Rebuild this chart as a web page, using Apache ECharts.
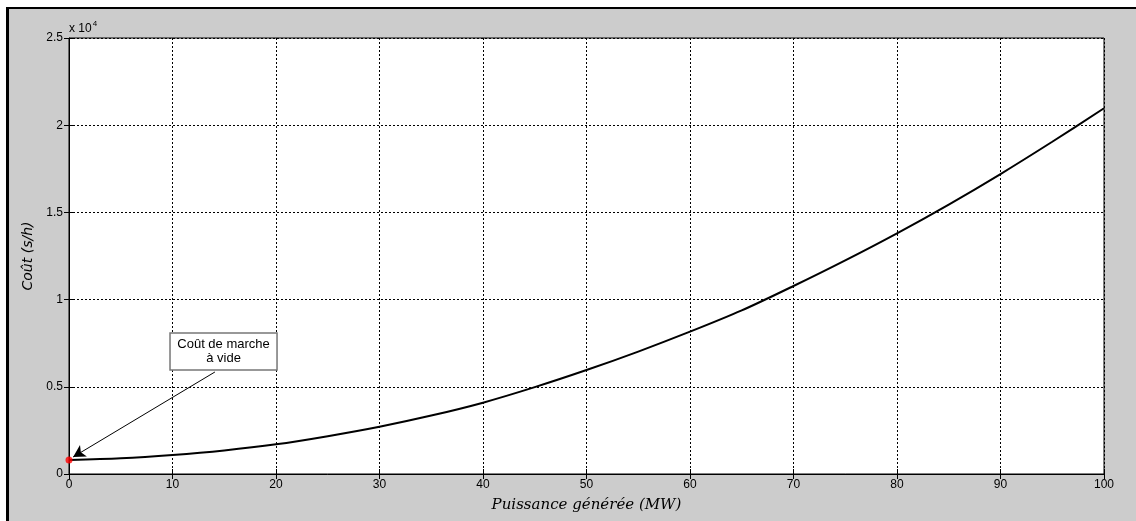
<!DOCTYPE html>
<html>
<head>
<meta charset="utf-8">
<script src="https://cdn.jsdelivr.net/npm/echarts@6/dist/echarts.min.js"></script>
<style>
html,body{margin:0;padding:0;background:#fff;}
#c{width:1136px;height:521px;}
</style>
</head>
<body>
<div id="c"></div>
<script>
// Data
var powerMW = [0, 5, 10, 15, 20, 25, 30, 35, 40, 45, 50, 55, 60, 65, 70, 75, 80, 85, 90, 95, 100];
var costValues = [800, 900, 1090, 1350, 1700, 2170, 2710, 3350, 4090, 4980, 5960, 7020, 8160, 9380, 10780, 12250, 13800, 15450, 17200, 19050, 20970];
var xTicks = [0, 10, 20, 30, 40, 50, 60, 70, 80, 90, 100];
var yTickLabels = ['0', '0.5', '1', '1.5', '2', '2.5'];
var noLoadPoint = [0, 800];
var annotationText = ['Coût de marche', 'à vide'];
var arrowStart = [14.1, 5850];
var arrowEnd = [0.4, 975];
var boxTopLeft = [9.76, 8090];
var boxBottomRight = [20.1, 5960];

var chart = echarts.init(document.getElementById('c'));
var lineData = powerMW.map(function (p, i) { return [p, costValues[i]]; });

var tickFont = {fontFamily: 'Liberation Sans, Arial, sans-serif', fontSize: 12, color: '#000'};

chart.setOption({
  backgroundColor: '#cccccc',
  animation: false,
  grid: {left: 69, right: 32, top: 38, bottom: 47, show: true, backgroundColor: '#fff', borderColor: '#000', borderWidth: 1},
  xAxis: [{
    type: 'value', min: 0, max: 100, interval: 10, position: 'bottom',
    axisLine: {show: true, lineStyle: {color: '#000', width: 1}},
    axisTick: {show: true, inside: true, length: 5, lineStyle: {color: '#000'}},
    axisLabel: Object.assign({margin: 5}, tickFont),
    splitLine: {show: true, lineStyle: {color: '#000', type: [2, 2], width: 1}},
    name: 'Puissance générée (MW)', nameLocation: 'middle', nameGap: 24,
    nameTextStyle: {fontFamily: 'DejaVu Serif, serif', fontStyle: 'italic', fontSize: 15, color: '#000'}
  }, {
    type: 'value', min: 0, max: 100, interval: 10, position: 'top',
    axisLine: {show: false}, axisLabel: {show: false}, splitLine: {show: false},
    axisTick: {show: true, inside: true, length: 5, lineStyle: {color: '#000'}}
  }],
  yAxis: [{
    type: 'value', min: 0, max: 25000, interval: 5000, position: 'left',
    axisLine: {show: true, lineStyle: {color: '#000', width: 1}},
    axisTick: {show: true, inside: true, length: 5, lineStyle: {color: '#000'}},
    axisLabel: Object.assign({margin: 6, formatter: function (v) { return yTickLabels[Math.round(v / 5000)]; }}, tickFont),
    splitLine: {show: true, lineStyle: {color: '#000', type: [2, 2], width: 1}},
    name: 'Coût (s/h)', nameLocation: 'middle', nameGap: 31, nameRotate: 90,
    nameTextStyle: {fontFamily: 'DejaVu Sans, sans-serif', fontStyle: 'italic', fontSize: 14, color: '#000'}
  }, {
    type: 'value', min: 0, max: 25000, interval: 5000, position: 'right',
    axisLine: {show: false}, axisLabel: {show: false}, splitLine: {show: false},
    axisTick: {show: true, inside: true, length: 5, lineStyle: {color: '#000'}}
  }],
  series: [{
    type: 'line', data: lineData, smooth: 0.3, showSymbol: false,
    lineStyle: {color: '#000', width: 2}, z: 3,
    markLine: {
      silent: true, symbol: ['none', 'arrow'], symbolSize: [10, 12],
      lineStyle: {color: '#000', width: 1, type: 'solid'}, label: {show: false},
      data: [[{coord: arrowStart}, {coord: arrowEnd}]]
    }
  }, {
    type: 'scatter', data: [noLoadPoint], symbolSize: 7,
    itemStyle: {color: '#ff0000'}, z: 5
  }]
});

var tl = chart.convertToPixel({xAxisIndex: 0, yAxisIndex: 0}, boxTopLeft);
var br = chart.convertToPixel({xAxisIndex: 0, yAxisIndex: 0}, boxBottomRight);

chart.setOption({
  graphic: [
    {type: 'rect', shape: {x: 0, y: 0, width: 1136, height: 7}, style: {fill: '#fff'}, silent: true},
    {type: 'rect', shape: {x: 0, y: 0, width: 6, height: 521}, style: {fill: '#fff'}, silent: true},
    {type: 'line', shape: {x1: 6, y1: 8, x2: 1136, y2: 8}, style: {stroke: '#000', lineWidth: 2}, silent: true},
    {type: 'line', shape: {x1: 7.5, y1: 7, x2: 7.5, y2: 521}, style: {stroke: '#000', lineWidth: 3}, silent: true},
    {type: 'text', left: 69, top: 20, style: {
      text: '{a|x 10}{s|4}', rich: {
        a: {fontFamily: 'Liberation Sans, Arial, sans-serif', fontSize: 12, fill: '#000', verticalAlign: 'bottom'},
        s: {fontFamily: 'Liberation Sans, Arial, sans-serif', fontSize: 8, fill: '#000', verticalAlign: 'top', padding: [0, 0, 7, 1]}
      }}},
    {type: 'rect', shape: {x: tl[0], y: tl[1], width: br[0] - tl[0], height: br[1] - tl[1]},
      style: {fill: '#fff', stroke: '#777', lineWidth: 1.5}, z: 10},
    {type: 'text', x: (tl[0] + br[0]) / 2, y: (tl[1] + br[1]) / 2, z: 11,
      style: {text: annotationText.join('\n'), fontFamily: 'Liberation Sans, Arial, sans-serif', fontSize: 13,
        fill: '#000', align: 'center', verticalAlign: 'middle', lineHeight: 14}}
  ]
});
</script>
</body>
</html>
